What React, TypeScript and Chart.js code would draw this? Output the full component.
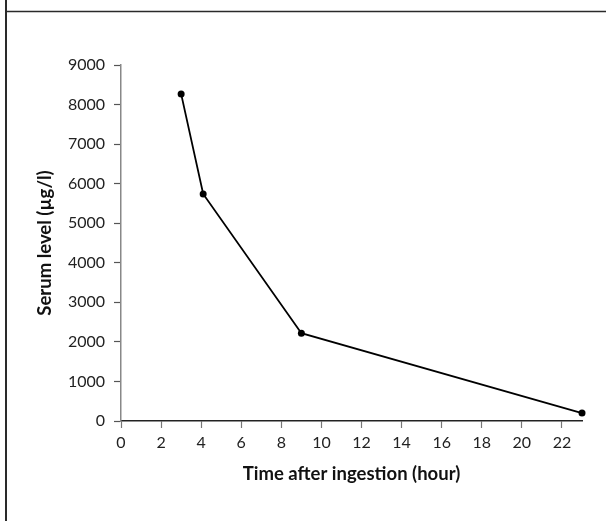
import React, { useEffect, useRef } from "react";
import { Chart, registerables } from "chart.js";

Chart.register(...registerables);

// Data
const hours = [3, 4.1, 9, 23];
const serumLevel = [8270, 5740, 2220, 200];
const xTickValues = [0, 2, 4, 6, 8, 10, 12, 14, 16, 18, 20, 22];
const yTickValues = [0, 1000, 2000, 3000, 4000, 5000, 6000, 7000, 8000, 9000];
const xTitle = "Time after ingestion (hour)";
const yTitle = "Serum level (µg/l)";

const framePlugin = {
  id: "frame",
  afterDraw(chart: any) {
    const ctx = chart.ctx;
    ctx.save();
    ctx.strokeStyle = "#2a2a2a";
    ctx.lineWidth = 1.5;
    ctx.beginPath();
    ctx.moveTo(6, 11.5);
    ctx.lineTo(chart.width, 11.5);
    ctx.stroke();
    ctx.lineWidth = 2;
    ctx.beginPath();
    ctx.moveTo(6, 0);
    ctx.lineTo(6, chart.height);
    ctx.stroke();
    ctx.restore();
  },
};

export default function App() {
  const ref = useRef<HTMLCanvasElement | null>(null);

  useEffect(() => {
    if (!ref.current) return;
    const chart = new Chart(ref.current, {
      type: "line",
      data: {
        datasets: [
          {
            data: hours.map((h, i) => ({ x: h, y: serumLevel[i] })),
            borderColor: "#000",
            backgroundColor: "#000",
            borderWidth: 1.8,
            pointRadius: 3.5,
            pointBackgroundColor: "#000",
            pointBorderWidth: 0,
            tension: 0,
            clip: false as any,
          },
        ],
      },
      options: {
        animation: false,
        responsive: false,
        layout: { padding: { top: 65, right: 24, left: 0, bottom: 0 } },
        plugins: { legend: { display: false }, tooltip: { enabled: false } },
        scales: {
          x: {
            type: "linear",
            min: 0,
            max: 23,
            afterBuildTicks: (scale: any) => {
              scale.ticks = xTickValues.map((v) => ({ value: v }));
            },
            afterFit: (scale: any) => {
              scale.height = 100;
            },
            grid: {
              drawOnChartArea: false,
              drawTicks: true,
              tickLength: 7,
              tickColor: "#777",
              tickWidth: 1.2,
            },
            border: { display: true, color: "#222", width: 1.5 },
            ticks: {
              padding: 5,
              color: "#222",
              maxRotation: 0,
              autoSkip: false,
              font: { family: "Lato", size: 16 },
              callback: (v: any) => String(v),
            },
            title: {
              display: true,
              text: xTitle,
              color: "#111",
              font: { family: "Lato", size: 18.5, weight: "bold" },
              padding: { top: 0, bottom: 36 },
            },
          },
          y: {
            type: "linear",
            min: 0,
            max: 9000,
            afterBuildTicks: (scale: any) => {
              scale.ticks = yTickValues.map((v) => ({ value: v }));
            },
            afterFit: (scale: any) => {
              scale.width = 121;
            },
            grid: {
              drawOnChartArea: false,
              drawTicks: true,
              tickLength: 7,
              tickColor: "#555",
              tickWidth: 1.2,
            },
            border: { display: true, color: "#888", width: 1.5 },
            ticks: {
              padding: 9,
              color: "#222",
              autoSkip: false,
              font: { family: "Lato", size: 16 },
              callback: (v: any) => String(v),
            },
            title: {
              display: true,
              text: yTitle,
              color: "#111",
              font: { family: "Lato", size: 18.5, weight: "bold" },
              padding: { top: 34, bottom: 0 },
            },
          },
        },
      },
      plugins: [framePlugin],
    });
    return () => chart.destroy();
  }, []);

  return (
    <div style={{ position: "absolute", left: 0, top: 0, width: 606, height: 521, background: "#fff" }}>
      <canvas ref={ref} width={606} height={521} />
    </div>
  );
}
